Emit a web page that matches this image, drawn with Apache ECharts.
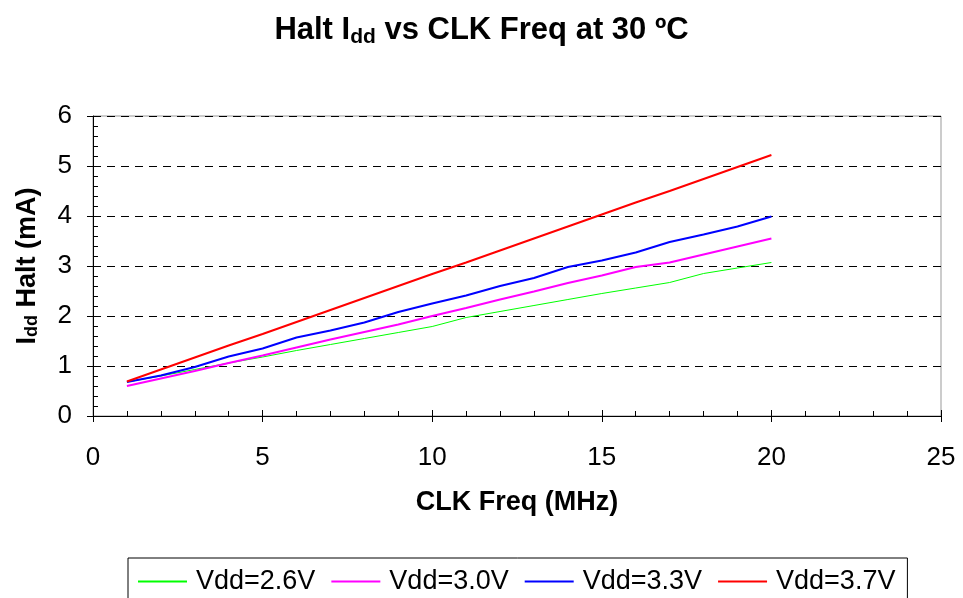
<!DOCTYPE html>
<html>
<head>
<meta charset="utf-8">
<script src="https://cdn.jsdelivr.net/npm/echarts@6/dist/echarts.min.js"></script>
<style>
  html, body { margin: 0; padding: 0; background: #fff; }
  #chart { width: 963px; height: 598px; }
</style>
</head>
<body>
<div id="chart"></div>
<script>
// Clock frequency (MHz)
const freq = [1, 2, 3, 4, 5, 6, 7, 8, 9, 10, 11, 12, 13, 14, 15, 16, 17, 18, 19, 20];

// Halt supply current (mA) per supply voltage
const vdd26 = [0.68, 0.80, 0.93, 1.06, 1.18, 1.31, 1.43, 1.55, 1.67, 1.79, 1.97, 2.09, 2.21, 2.33, 2.45, 2.56, 2.67, 2.85, 2.96, 3.07];
const vdd30 = [0.60, 0.75, 0.90, 1.06, 1.21, 1.37, 1.53, 1.68, 1.83, 2.00, 2.16, 2.33, 2.49, 2.66, 2.81, 2.98, 3.07, 3.23, 3.39, 3.55];
const vdd33 = [0.68, 0.81, 0.98, 1.19, 1.35, 1.57, 1.71, 1.87, 2.08, 2.25, 2.41, 2.60, 2.76, 2.98, 3.11, 3.27, 3.48, 3.63, 3.79, 3.99];
const vdd37 = [0.69, 0.93, 1.17, 1.41, 1.64, 1.88, 2.12, 2.36, 2.60, 2.84, 3.07, 3.31, 3.55, 3.79, 4.03, 4.27, 4.50, 4.74, 4.98, 5.22];

const seriesNames = ['Vdd=2.6V', 'Vdd=3.0V', 'Vdd=3.3V', 'Vdd=3.7V'];
const seriesValues = [vdd26, vdd30, vdd33, vdd37];
const seriesColors = ['#00ff00', '#ff00ff', '#0000ff', '#ff0000'];
const seriesWidths = [1, 2, 2, 2];

const FONT = '"Liberation Sans", Arial, Helvetica, sans-serif';

const chart = echarts.init(document.getElementById('chart'), null, { renderer: 'canvas' });

const pairs = (ys) => freq.map((f, i) => [f, ys[i]]);

const option = {
  animation: false,
  backgroundColor: '#ffffff',
  title: {
    text: 'Halt I{s|dd} vs CLK Freq at 30 ºC',
    left: 'center',
    top: 8,
    textStyle: {
      fontFamily: FONT,
      fontSize: 31,
      fontWeight: 'bold',
      color: '#000',
      rich: {
        s: { fontFamily: FONT, fontSize: 21, fontWeight: 'bold', color: '#000', verticalAlign: 'bottom', padding: [14, 0, 0, 0] }
      }
    }
  },
  grid: {
    left: 93,
    right: 22,
    top: 116,
    bottom: 182,
    show: true,
    borderColor: '#999999',
    borderWidth: 1,
    backgroundColor: 'transparent'
  },
  legend: {
    left: 128,
    top: 558,
    orient: 'horizontal',
    icon: 'rect',
    itemWidth: 49,
    itemHeight: 2,
    itemGap: 16,
    padding: [10, 12, 24, 10],
    borderColor: '#000',
    borderWidth: 1,
    textStyle: { fontFamily: FONT, fontSize: 27, color: '#000', padding: [0, 0, 0, 4] },
    data: seriesNames
  },
  xAxis: [
    {
      type: 'value',
      min: 0,
      max: 25,
      interval: 5,
      name: 'CLK Freq (MHz)',
      nameLocation: 'middle',
      nameGap: 73,
      nameTextStyle: { fontFamily: FONT, fontSize: 27, fontWeight: 'bold', color: '#000' },
      axisLine: { show: true, lineStyle: { color: '#000', width: 1 } },
      axisTick: { show: true, length: 6, lineStyle: { color: '#000' } },
      minorTick: { show: true, splitNumber: 5, length: -5, lineStyle: { color: '#000' } },
      axisLabel: { fontFamily: FONT, fontSize: 26, color: '#000', margin: 29 },
      splitLine: { show: false }
    },
    {
      // inner half of the crossing major ticks
      type: 'value',
      min: 0,
      max: 25,
      interval: 5,
      position: 'bottom',
      axisLine: { show: false },
      axisTick: { show: true, inside: true, length: 6, lineStyle: { color: '#000' } },
      axisLabel: { show: false },
      splitLine: { show: false }
    }
  ],
  yAxis: [
    {
      type: 'value',
      min: 0,
      max: 6,
      interval: 1,
      name: 'I{s|dd} Halt (mA)',
      nameLocation: 'middle',
      nameGap: 52,
      nameTextStyle: {
        fontFamily: FONT, fontSize: 27, fontWeight: 'bold', color: '#000',
        rich: {
          s: { fontFamily: FONT, fontSize: 18, fontWeight: 'bold', color: '#000', padding: [9, 0, 0, 0] }
        }
      },
      axisLine: { show: true, lineStyle: { color: '#000', width: 1 } },
      axisTick: { show: true, length: 6, lineStyle: { color: '#000' } },
      minorTick: { show: true, splitNumber: 5, length: -5, lineStyle: { color: '#000' } },
      axisLabel: { fontFamily: FONT, fontSize: 26, color: '#000', margin: 21 },
      splitLine: { show: true, lineStyle: { color: '#000', width: 1, type: [8, 6] } }
    },
    {
      // inner half of the crossing major ticks
      type: 'value',
      min: 0,
      max: 6,
      interval: 1,
      position: 'left',
      axisLine: { show: false },
      axisTick: { show: true, inside: true, length: 6, lineStyle: { color: '#000' } },
      axisLabel: { show: false },
      splitLine: { show: false }
    }
  ],
  series: seriesNames.map((name, k) => ({
    name: name,
    type: 'line',
    xAxisIndex: 0,
    yAxisIndex: 0,
    data: pairs(seriesValues[k]),
    showSymbol: false,
    symbol: 'none',
    color: seriesColors[k],
    lineStyle: { color: seriesColors[k], width: seriesWidths[k] },
    itemStyle: { color: seriesColors[k] }
  }))
};

chart.setOption(option);
</script>
</body>
</html>
